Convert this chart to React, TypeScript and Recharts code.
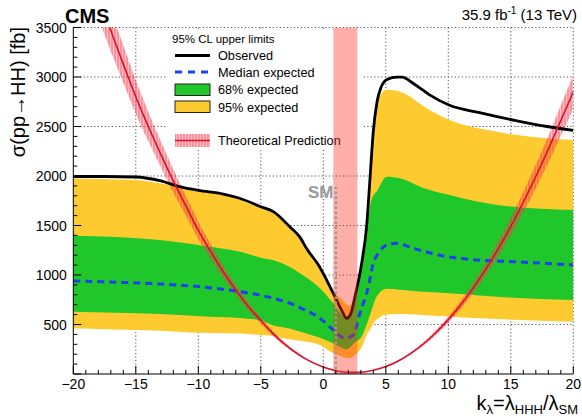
import {
    ComposedChart,
    Area,
    Line,
    XAxis,
    YAxis,
    CartesianGrid,
    ReferenceArea,
    ReferenceLine,
} from 'recharts'

// observed limit
const obsX = [-20, -17.5, -15, -13, -11.5, -10, -8, -6.7, -5, -4, -2.7, -1.9, -1.3, -0.3, 0.3, 0.8, 1.4, 1.87, 2.2, 2.53, 3.07, 3.47, 3.75, 4.0, 4.3, 4.6, 5.1, 5.9, 6.3, 7.2, 8.5, 10.1, 12.5, 15.2, 17.9, 20]
const obsY = [1995, 1995, 1990, 1950, 1893, 1855, 1818, 1775, 1690, 1640, 1490, 1387, 1260, 1084, 940, 815, 660, 563, 610, 781, 1118, 1500, 2000, 2450, 2750, 2890, 2975, 2998, 2998, 2935, 2820, 2715, 2640, 2565, 2500, 2460]

// median expected
const medX = [-20, -16, -13.1, -9.1, -6.65, -5, -4, -2.7, -1.87, -0.27, 0.8, 1.73, 2.4, 2.93, 3.6, 4.0, 4.4, 5.07, 5.87, 7.2, 9.9, 12.5, 15.2, 20]
const medY = [940, 925, 910, 872, 831, 795, 765, 715, 670, 563, 444, 360, 394, 613, 880, 1120, 1219, 1303, 1320, 1270, 1185, 1150, 1135, 1100]

// 68% expected band
const greenX = [-20, -13.1, -9.1, -6.65, -5, -4, -2.7, -1.87, -0.27, 0.8, 1.87, 2.53, 3.07, 3.47, 3.85, 4.3, 5.07, 6.13, 8, 10.1, 13.9, 20]
const greenHi = [1397, 1353, 1286, 1235, 1175, 1150, 1083, 1017, 866, 714, 560, 760, 1100, 1450, 1757, 1850, 1993, 1977, 1880, 1808, 1707, 1656]
const greenLo = [630, 606, 579, 565, 540, 490, 460, 430, 365, 310, 250, 320, 380, 500, 640, 790, 860, 850, 830, 815, 780, 747]

// 95% expected band
const yellowX = [-20, -15, -13.1, -10, -9.1, -6.65, -5, -4, -2.7, -1.87, -0.27, 0.8, 1.4, 2.1, 2.53, 3.07, 3.47, 3.75, 4.0, 4.5, 5.07, 6.13, 8.5, 10.1, 13.9, 20]
const yellowHi = [1976, 1960, 1926, 1850, 1841, 1760, 1680, 1630, 1480, 1380, 1075, 830, 760, 690, 780, 1105, 1480, 1980, 2430, 2800, 2870, 2851, 2666, 2565, 2447, 2363]
const yellowLo = [462, 444, 438, 417, 415, 410, 394, 385, 350, 335, 293, 209, 180, 160, 192, 270, 400, 450, 510, 570, 600, 606, 590, 579, 555, 528]

// theoretical prediction
const thX = [-20, -19, -18, -17, -16, -15, -14, -13, -12, -11, -10, -9, -8, -7, -6, -5, -4, -3, -2, -1, 0, 1, 2, 3, 4, 5, 6, 7, 8, 9, 10, 11, 12, 13, 14, 15, 16, 17, 18, 19, 20]
const thY = [4600, 4200, 3830, 3470, 3130, 2800, 2500, 2220, 1950, 1700, 1450, 1235, 1030, 850, 683, 540, 405, 292, 199, 125, 70, 33, 16, 17, 37, 75, 132, 208, 303, 417, 549, 700, 870, 1059, 1266, 1490, 1735, 1995, 2270, 2560, 2850]
const thLo = [4320, 3950, 3600, 3260, 2940, 2630, 2350, 2090, 1830, 1600, 1360, 1160, 970, 800, 640, 510, 380, 275, 187, 118, 66, 31, 15, 16, 35, 70, 124, 196, 285, 392, 516, 658, 818, 995, 1190, 1400, 1630, 1875, 2135, 2405, 2680]
const thHi = [4880, 4450, 4060, 3680, 3320, 2970, 2650, 2350, 2070, 1800, 1540, 1310, 1090, 900, 725, 570, 430, 310, 211, 132, 74, 35, 17, 18, 39, 80, 140, 220, 321, 442, 582, 742, 922, 1123, 1342, 1580, 1840, 2115, 2405, 2715, 3020]

const xMajorTicks = [-20, -15, -10, -5, 0, 5, 10, 15, 20]
const yMajorTicks = [500, 1000, 1500, 2000, 2500, 3000, 3500]

const xAllTicks: number[] = []
for (let v = -20; v <= 20; v++) xAllTicks.push(v)
const yAllTicks: number[] = []
for (let v = 0; v <= 3500; v += 100) yAllTicks.push(v)

const observed = obsX.map((x, i) => ({ x, y: obsY[i] }))
const median = medX.map((x, i) => ({ x, y: medY[i] }))
const greenBand = greenX.map((x, i) => ({ x, band: [greenLo[i], greenHi[i]] }))
const yellowBand = yellowX.map((x, i) => ({ x, band: [yellowLo[i], yellowHi[i]] }))
const theory = thX.map((x, i) => ({ x, y: thY[i], band: [thLo[i], thHi[i]] }))

const FONT = 'Liberation Sans, Arial, Helvetica, sans-serif'

const fmt = (v: number) => (v < 0 ? '\u2212' + Math.abs(v) : String(v))

function XTick(props: any) {
    const { x, y, payload } = props
    const major = xMajorTicks.includes(payload.value)
    return (
        <g>
            <line x1={x} y1={y} x2={x} y2={y - (major ? 8 : 4)} stroke="#000" />
            {major && (
                <text x={x} y={y + 15} textAnchor="middle" fontSize={14} fontFamily={FONT} fill="#000">
                    {fmt(payload.value)}
                </text>
            )}
        </g>
    )
}

function YTick(props: any) {
    const { x, y, payload } = props
    const major = yMajorTicks.includes(payload.value) || payload.value === 0
    return (
        <g>
            <line x1={x} y1={y} x2={x + (major ? 8 : 4)} y2={y} stroke="#000" />
            {yMajorTicks.includes(payload.value) && (
                <text x={x - 6.5} y={y + 5} textAnchor="end" fontSize={14} fontFamily={FONT} fill="#000">
                    {payload.value}
                </text>
            )}
        </g>
    )
}

function LegendBox() {
    return (
        <g fontFamily={FONT} fill="#000">
            <rect x={166} y={29} width={196} height={121} fill="#fff" />
            <text x={172} y={42.5} fontSize={11.5}>95% CL upper limits</text>
            <line x1={175} x2={210} y1={55.5} y2={55.5} stroke="#000" strokeWidth={2.8} />
            <text x={218} y={60} fontSize={12.7}>Observed</text>
            <line x1={175} x2={210} y1={72} y2={72} stroke="#2040f0" strokeWidth={3} strokeDasharray="7 6" />
            <text x={218} y={76.5} fontSize={12.7}>Median expected</text>
            <rect x={175} y={84} width={35} height={11.5} fill="#1fc72a" stroke="#222" strokeWidth={1} />
            <text x={218} y={94} fontSize={12.7}>68% expected</text>
            <rect x={175} y={101} width={35} height={11.5} fill="#fdca2f" stroke="#222" strokeWidth={1} />
            <text x={218} y={111.5} fontSize={12.7}>95% expected</text>
            <rect x={175} y={134} width={35} height={13} fill="url(#hatch)" />
            <line x1={175} x2={210} y1={140.5} y2={140.5} stroke="#d8102c" strokeWidth={1.5} />
            <text x={218} y={145} fontSize={12.7}>Theoretical Prediction</text>
        </g>
    )
}

export default function App() {
    return (
        <div
            style={{
                position: 'absolute',
                left: 0,
                top: 0,
                width: 582,
                height: 419,
                background: '#fff',
                fontFamily: FONT,
            }}
        >
            <ComposedChart
                width={582}
                height={419}
                margin={{ top: 27.5, right: 8.7, bottom: 0, left: 0 }}
            >
                <defs>
                    <pattern id="hatch" width="3" height="3" patternUnits="userSpaceOnUse">
                        <rect width="3" height="3" fill="#ff4a5a" fillOpacity={0.35} />
                        <line x1="1" y1="0" x2="1" y2="3" stroke="#e8202e" strokeWidth={1} strokeOpacity={0.55} />
                    </pattern>
                </defs>
                <CartesianGrid
                    stroke="#555"
                    strokeDasharray="1.2 2.3"
                    verticalValues={[-15, -10, -5, 0, 5, 10, 15, 20]}
                    horizontalValues={[500, 1000, 1500, 2000, 2500, 3000, 3500]}
                />
                <LegendBox />
                <XAxis
                    type="number"
                    dataKey="x"
                    domain={[-20, 20]}
                    ticks={xAllTicks}
                    interval={0}
                    allowDataOverflow
                    height={45}
                    tickLine={false}
                    tickSize={0}
                    tickMargin={0}
                    tick={(p: any) => <XTick {...p} />}
                    axisLine={{ stroke: '#000', strokeWidth: 1 }}
                />
                <YAxis
                    type="number"
                    domain={[0, 3500]}
                    ticks={yAllTicks}
                    interval={0}
                    allowDataOverflow
                    width={73.3}
                    tickLine={false}
                    tickSize={0}
                    tickMargin={0}
                    tick={(p: any) => <YTick {...p} />}
                    axisLine={{ stroke: '#000', strokeWidth: 1 }}
                />
                <Area
                    data={yellowBand}
                    dataKey="band"
                    type="monotone"
                    stroke="none"
                    fill="#fdca2f"
                    fillOpacity={1}
                    isAnimationActive={false}
                />
                <Area
                    data={greenBand}
                    dataKey="band"
                    type="monotone"
                    stroke="none"
                    fill="#1fc72a"
                    fillOpacity={1}
                    isAnimationActive={false}
                />
                <Area
                    data={theory}
                    dataKey="band"
                    type="monotone"
                    stroke="none"
                    fill="url(#hatch)"
                    fillOpacity={1}
                    isAnimationActive={false}
                />
                <Line
                    data={median}
                    dataKey="y"
                    type="monotone"
                    stroke="#2040f0"
                    strokeWidth={3}
                    strokeDasharray="7 5"
                    dot={false}
                    activeDot={false}
                    isAnimationActive={false}
                />
                <Line
                    data={observed}
                    dataKey="y"
                    type="monotone"
                    stroke="#000"
                    strokeWidth={2.8}
                    dot={false}
                    activeDot={false}
                    isAnimationActive={false}
                />
                <Line
                    data={theory}
                    dataKey="y"
                    type="monotone"
                    stroke="#d8102c"
                    strokeWidth={1.6}
                    dot={false}
                    activeDot={false}
                    isAnimationActive={false}
                />
                <ReferenceArea
                    x1={0.8}
                    x2={2.72}
                    fill="#ff2a1a"
                    fillOpacity={0.38}
                    stroke="none"
                    ifOverflow="hidden"
                    zIndex={450}
                />
                <ReferenceLine
                    segment={[
                        { x: 1, y: 0 },
                        { x: 1, y: 1890 },
                    ]}
                    stroke="#999"
                    strokeWidth={2.5}
                    strokeDasharray="2.5 2.5"
                    zIndex={460}
                />
            </ComposedChart>
            <svg
                width={582}
                height={419}
                style={{ position: 'absolute', left: 0, top: 0, pointerEvents: 'none' }}
                fontFamily={FONT}
            >
                <text x={65} y={23} fontSize={20} fontWeight="bold" fill="#000">
                    CMS
                </text>
                <text x={577} y={20} fontSize={15} textAnchor="end" fill="#000">
                    35.9 fb
                    <tspan dy={-6} fontSize={10}>
                        -1
                    </tspan>
                    <tspan dy={6}> (13 TeV)</tspan>
                </text>
                <text transform="translate(25,27) rotate(-90)" textAnchor="end" fontSize={20} fill="#000">
                    σ(pp→HH) [fb]
                </text>
                <text x={578} y={409.5} textAnchor="end" fontSize={20} fill="#000">
                    k
                    <tspan fontSize={13} dy={4.5}>λ</tspan>
                    <tspan dy={-4.5}>=λ</tspan>
                    <tspan fontSize={13} dy={4.5}>HHH</tspan>
                    <tspan dy={-4.5}>/λ</tspan>
                    <tspan fontSize={13} dy={4.5}>SM</tspan>
                </text>
                <text x={333.5} y={197.5} textAnchor="end" fontSize={17} fontWeight="bold" fill="#999">
                    SM
                </text>
            </svg>
        </div>
    )
}
